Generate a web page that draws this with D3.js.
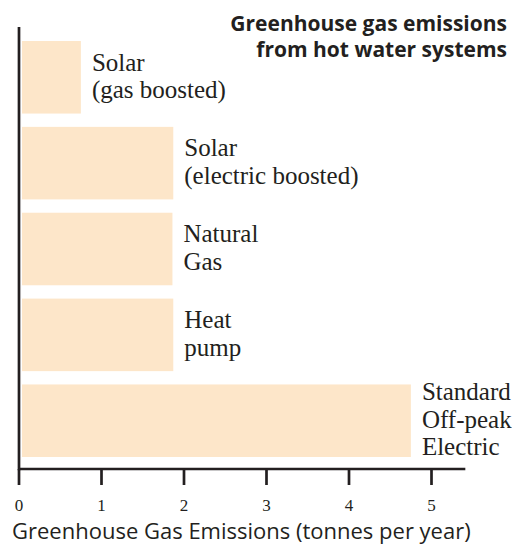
<!DOCTYPE html>
<html>
<head>
<meta charset="utf-8">
<script src="https://cdn.jsdelivr.net/npm/d3@7"></script>
<style>
  body { margin: 0; background: #fff; }
</style>
</head>
<body>
<script>
// data
let systems = ["Solar (gas boosted)", "Solar (electric boosted)", "Natural Gas", "Heat pump", "Standard Off-peak Electric"];
let emissions = [0.75, 1.87, 1.86, 1.87, 4.75];
let labelLines = [
    ["Solar", "(gas boosted)"],
    ["Solar", "(electric boosted)"],
    ["Natural", "Gas"],
    ["Heat", "pump"],
    ["Standard", "Off-peak", "Electric"]
];
let xTicks = [0, 1, 2, 3, 4, 5];
let titleLines = ["Greenhouse gas emissions", "from hot water systems"];
let xTitle = "Greenhouse Gas Emissions (tonnes per year)";

let svgWidth = 512;
let svgHeight = 544;

let margin = { top: 41, right: 47, bottom: 75, left: 19 };
let width = svgWidth - margin.left - margin.right;
let height = svgHeight - margin.top - margin.bottom;

let data = systems.map((s, i) => ({ system: s, value: emissions[i], lines: labelLines[i] }));

let serif = "'Liberation Serif', serif";
let sans = "'Open Sans', sans-serif";
let axisColor = "#231f20";

let svg = d3.select("body")
    .append("svg")
    .style("display", "block")
    .attr("width", svgWidth)
    .attr("height", svgHeight);

let chartGroup = svg.append("g")
    .attr("transform", `translate(${margin.left}, ${margin.top})`);

// scales
let xScale = d3.scaleLinear()
    .domain([0, 5])
    .range([0, 412.5]);

let yScale = d3.scaleBand()
    .domain(systems)
    .range([0, 416])
    .paddingInner(0.155)
    .paddingOuter(0);

// bars
chartGroup.selectAll(".bar")
    .data(data)
    .enter()
    .append("rect")
    .attr("class", "bar")
    .attr("x", xScale(0) + 3)
    .attr("y", d => yScale(d.system))
    .attr("width", d => xScale(d.value) - xScale(0) - 3)
    .attr("height", yScale.bandwidth())
    .attr("fill", "#fde6c9");

// bar labels
let lh = 27.5;
let labels = chartGroup.selectAll(".label")
    .data(data)
    .enter()
    .append("text")
    .attr("class", "label")
    .attr("font-family", serif)
    .attr("font-size", 25)
    .attr("fill", axisColor)
    .attr("x", d => xScale(d.value) + 11)
    .attr("y", d => yScale(d.system) + yScale.bandwidth() / 2 - (d.lines.length - 1) * lh / 2 + 7);

labels.selectAll("tspan")
    .data(d => d.lines)
    .enter()
    .append("tspan")
    .attr("x", function() { return d3.select(this.parentNode).attr("x"); })
    .attr("dy", (d, i) => i === 0 ? 0 : lh)
    .text(d => d);

// x axis: ticks and labels from the scale
let axisY = height;

let ticks = chartGroup.selectAll(".xtick")
    .data(xTicks)
    .enter()
    .append("g")
    .attr("class", "xtick")
    .attr("transform", d => `translate(${xScale(d)}, ${axisY})`);

ticks.append("line")
    .attr("y1", 0)
    .attr("y2", 16)
    .attr("stroke", axisColor)
    .attr("stroke-width", 2.7);

ticks.append("text")
    .attr("y", 42)
    .attr("text-anchor", "middle")
    .attr("font-family", serif)
    .attr("font-size", 17)
    .attr("fill", axisColor)
    .text(d3.format("d"));

// axis lines
chartGroup.append("line")
    .attr("x1", xScale(0)).attr("x2", xScale(5.41))
    .attr("y1", axisY).attr("y2", axisY)
    .attr("stroke", axisColor)
    .attr("stroke-width", 2.7);

chartGroup.append("line")
    .attr("x1", xScale(0)).attr("x2", xScale(0))
    .attr("y1", -14).attr("y2", axisY + 1.3)
    .attr("stroke", axisColor)
    .attr("stroke-width", 2.7);

// axis title
svg.append("text")
    .attr("x", 12)
    .attr("y", 539)
    .attr("font-family", sans)
    .attr("font-size", 22)
    .attr("fill", axisColor)
    .text(xTitle);

// chart title
svg.append("text")
    .attr("text-anchor", "end")
    .attr("font-family", sans)
    .attr("font-weight", "bold")
    .attr("font-size", 21)
    .attr("fill", axisColor)
    .selectAll("tspan")
    .data(titleLines)
    .enter()
    .append("tspan")
    .attr("x", 507)
    .attr("y", (d, i) => 31 + i * 26)
    .text(d => d);
</script>
</body>
</html>
